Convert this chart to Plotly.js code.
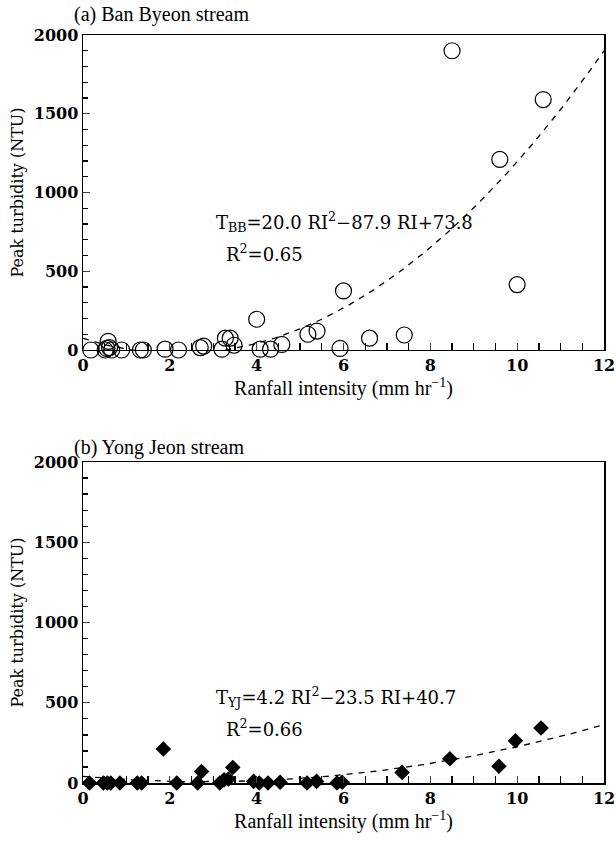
<!DOCTYPE html>
<html>
<head>
<meta charset="utf-8">
<script src="https://cdn.plot.ly/plotly-3.0.1.min.js"></script>
<style>html,body{margin:0;padding:0;background:#fff;}#chart{width:616px;height:842px;}</style>
</head>
<body>
<div id="chart"></div>
<script>
// Panel (a) Ban Byeon stream
const riBB = [0.18, 0.51, 0.55, 0.58, 0.61, 0.66, 0.89, 1.32, 1.39, 1.89, 2.2, 2.7, 2.78, 3.2, 3.28, 3.39, 3.48, 4.0, 4.08, 4.32, 4.58, 5.18, 5.39, 5.92, 6.0, 6.6, 7.4, 8.5, 9.6, 10.0, 10.6];
const tBB  = [0, 0, 10, 55, 15, 0, 0, 0, 0, 5, 0, 15, 25, 5, 75, 75, 30, 195, 5, 5, 35, 100, 120, 10, 375, 75, 95, 1900, 1210, 415, 1590];
// Panel (b) Yong Jeon stream
const riYJ = [0.15, 0.47, 0.56, 0.64, 0.85, 1.25, 1.35, 1.85, 2.16, 2.64, 2.73, 3.15, 3.25, 3.35, 3.45, 3.93, 4.06, 4.26, 4.54, 5.16, 5.38, 5.85, 5.97, 7.35, 8.45, 9.58, 9.96, 10.55];
const tYJ  = [0, 0, 0, 0, 0, 0, 0, 212, 0, 0, 72, 0, 20, 25, 97, 10, 0, 0, 5, 0, 10, 0, 5, 66, 151, 104, 263, 343];
// Fitted quadratic coefficients [a, b, c] printed in the chart
const fitBB = [20.0, -87.9, 73.8];
const fitYJ = [4.2, -23.5, 40.7];
const xTickVals = [0, 2, 4, 6, 8, 10, 12];
const yTickVals = [0, 500, 1000, 1500, 2000];

const fitX = [];
for (let i = 0; i <= 240; i++) fitX.push(i * 0.05);
const quad = (c) => fitX.map(x => c[0] * x * x + c[1] * x + c[2]);

const serif = "DejaVu Serif, serif";
const times = "Liberation Serif, Times New Roman, serif";

const xBase = {
  range: [0, 12], tickvals: xTickVals, ticks: 'inside', ticklen: 7, tickwidth: 1.3,
  minor: {dtick: 0.5, ticks: 'inside', ticklen: 7, tickwidth: 1.3, tickcolor: '#000'},
  showline: true, linecolor: '#000', linewidth: 1.5, mirror: true, showgrid: false, zeroline: false,
  tickfont: {family: serif, size: 16, color: '#000', weight: 'bold'},
  title: {text: 'Ranfall intensity (mm hr<sup>−1</sup>)', font: {family: times, size: 20, color: '#000'}, standoff: 6}
};
const yBase = {
  range: [0, 2000], tickvals: yTickVals, ticks: 'inside', ticklen: 7, tickwidth: 1.3,
  minor: {dtick: 100, ticks: 'inside', ticklen: 5, tickwidth: 1.3, tickcolor: '#000'},
  showline: true, linecolor: '#000', linewidth: 1.5, mirror: true, showgrid: false, zeroline: false,
  tickfont: {family: serif, size: 16, color: '#000', weight: 'bold'},
  title: {text: 'Peak turbidity (NTU)', font: {family: serif, size: 16, color: '#000'}, standoff: 6}
};

const traces = [
  {x: riBB, y: tBB, type: 'scatter', mode: 'markers', xaxis: 'x', yaxis: 'y', cliponaxis: false,
   marker: {symbol: 'circle-open', size: 16, color: '#000', line: {width: 1.2, color: '#000'}}},
  {x: fitX, y: quad(fitBB), type: 'scatter', mode: 'lines', xaxis: 'x', yaxis: 'y',
   line: {color: '#000', width: 1.3, dash: '6px,6px'}},
  {x: riYJ, y: tYJ, type: 'scatter', mode: 'markers', xaxis: 'x2', yaxis: 'y2', cliponaxis: false,
   marker: {symbol: 'diamond', size: 12, color: '#000', line: {width: 0}}},
  {x: fitX, y: quad(fitYJ), type: 'scatter', mode: 'lines', xaxis: 'x2', yaxis: 'y2',
   line: {color: '#000', width: 1.3, dash: '6px,6px'}}
];

const annFont = {family: serif, size: 18, color: '#000'};
const layout = {
  width: 616, height: 842, showlegend: false,
  paper_bgcolor: '#fff', plot_bgcolor: '#fff',
  margin: {l: 83, r: 12, t: 35, b: 59},
  xaxis: Object.assign({}, xBase, {anchor: 'y', domain: [0, 1]}),
  yaxis: Object.assign({}, yBase, {anchor: 'x', domain: [0.5789, 1]}),
  xaxis2: Object.assign({}, xBase, {anchor: 'y2', domain: [0, 1]}),
  yaxis2: Object.assign({}, yBase, {anchor: 'x2', domain: [0, 0.4291]}),
  annotations: [
    {text: '(a) Ban Byeon stream', xref: 'paper', yref: 'paper', x: -0.021, y: 1.028, xanchor: 'left', yanchor: 'middle', showarrow: false, font: {family: times, size: 20, color: '#000'}},
    {text: '(b) Yong Jeon stream', xref: 'paper', yref: 'paper', x: -0.021, y: 0.4479, xanchor: 'left', yanchor: 'middle', showarrow: false, font: {family: times, size: 20, color: '#000'}},
    {text: 'T<sub>BB</sub>=20.0 RI<sup>2</sup>−87.9 RI+73.8', xref: 'x', yref: 'y', x: 3.02, y: 813, xanchor: 'left', yanchor: 'middle', showarrow: false, font: annFont},
    {text: 'R<sup>2</sup>=0.65', xref: 'x', yref: 'y', x: 3.25, y: 616, xanchor: 'left', yanchor: 'middle', showarrow: false, font: annFont},
    {text: 'T<sub>YJ</sub>=4.2 RI<sup>2</sup>−23.5 RI+40.7', xref: 'x2', yref: 'y2', x: 3.02, y: 538, xanchor: 'left', yanchor: 'middle', showarrow: false, font: annFont},
    {text: 'R<sup>2</sup>=0.66', xref: 'x2', yref: 'y2', x: 3.25, y: 345, xanchor: 'left', yanchor: 'middle', showarrow: false, font: annFont}
  ]
};

Plotly.newPlot('chart', traces, layout, {displayModeBar: false, staticPlot: true});
</script>
</body>
</html>
